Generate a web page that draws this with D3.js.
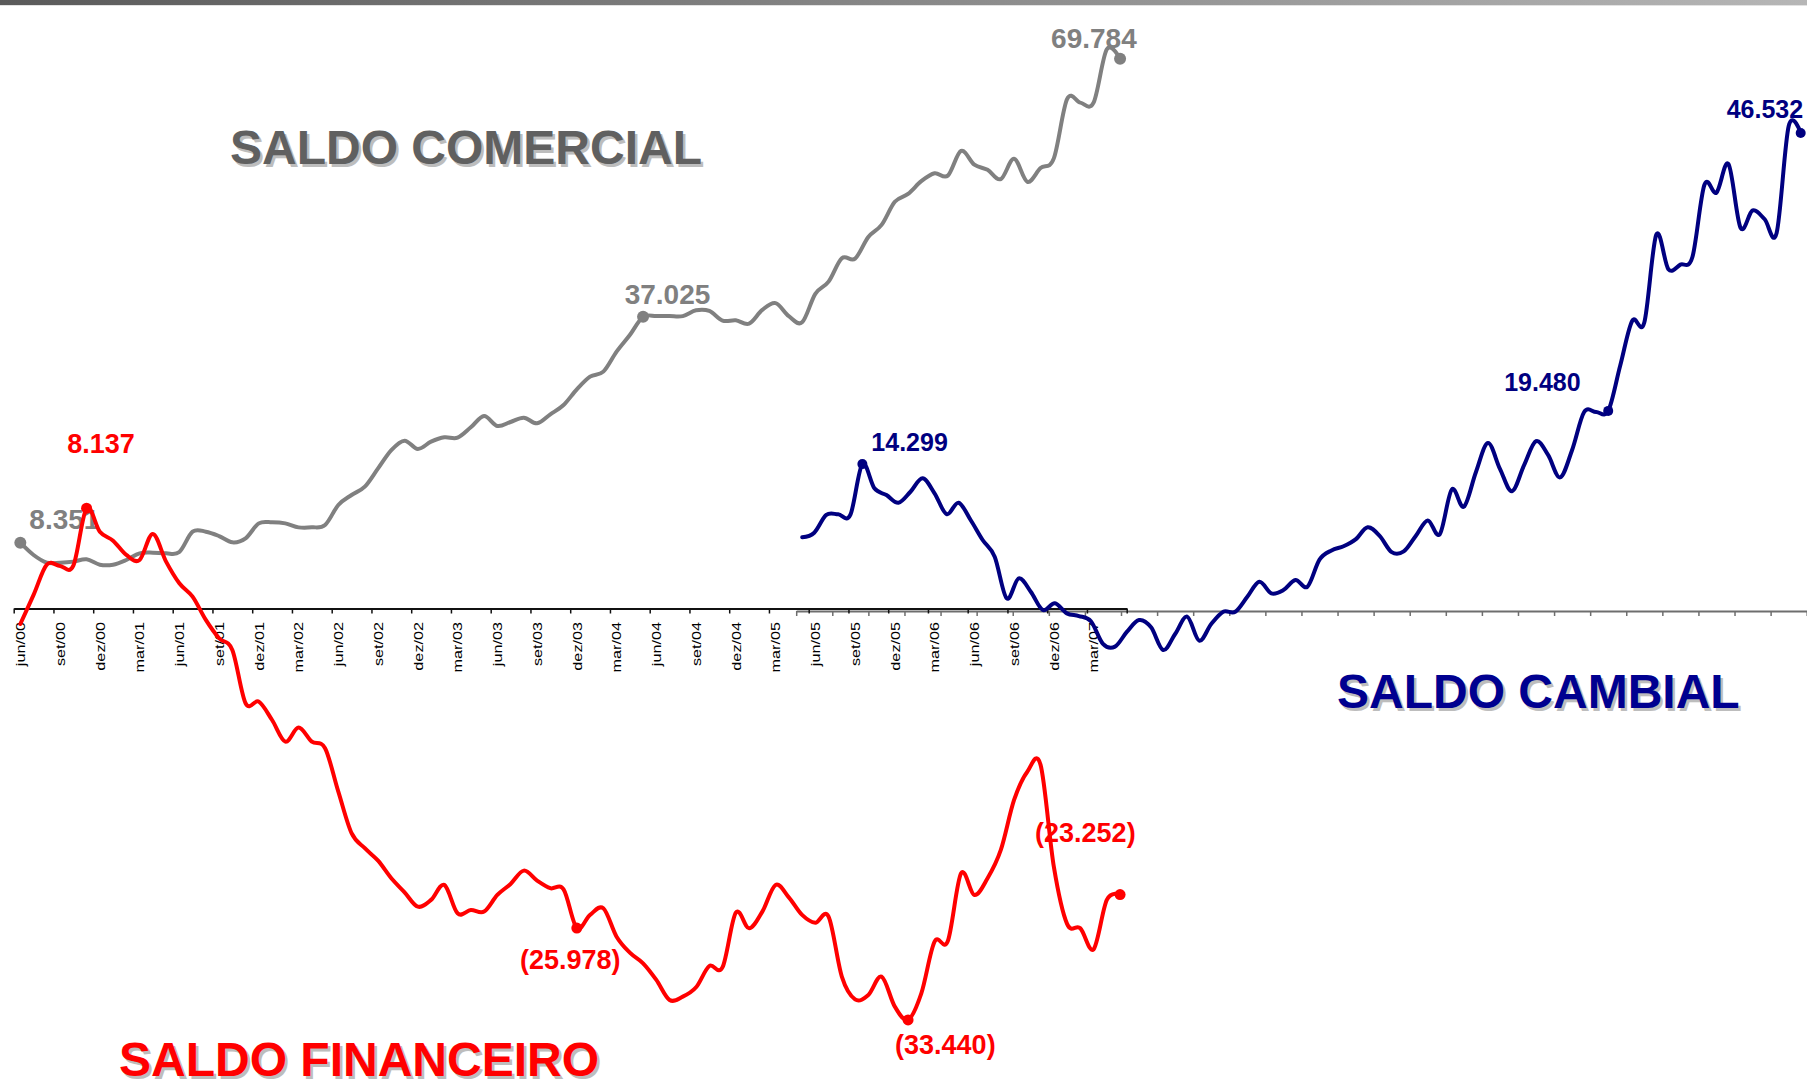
<!DOCTYPE html>
<html>
<head>
<meta charset="utf-8">
<script src="https://cdn.jsdelivr.net/npm/d3@7/dist/d3.min.js"></script>
<style>
	body { margin: 0; background: #fff; }
	svg { display: block; font-family: "Liberation Sans", Arial, sans-serif; }
</style>
</head>
<body>
<div id="grafico"></div>
<script>
// Meses da serie (jun/00 - mai/07)
let meses = [
	'jun/00','jul/00','ago/00','set/00','out/00','nov/00','dez/00',
	'jan/01','fev/01','mar/01','abr/01','mai/01','jun/01','jul/01','ago/01','set/01','out/01','nov/01','dez/01',
	'jan/02','fev/02','mar/02','abr/02','mai/02','jun/02','jul/02','ago/02','set/02','out/02','nov/02','dez/02',
	'jan/03','fev/03','mar/03','abr/03','mai/03','jun/03','jul/03','ago/03','set/03','out/03','nov/03','dez/03',
	'jan/04','fev/04','mar/04','abr/04','mai/04','jun/04','jul/04','ago/04','set/04','out/04','nov/04','dez/04',
	'jan/05','fev/05','mar/05','abr/05','mai/05','jun/05','jul/05','ago/05','set/05','out/05','nov/05','dez/05',
	'jan/06','fev/06','mar/06','abr/06','mai/06','jun/06','jul/06','ago/06','set/06','out/06','nov/06','dez/06',
	'jan/07','fev/07','mar/07','abr/07','mai/07'
];

// Rotulos do eixo (trimestrais)
let rotulos = ['jun/00','set/00','dez/00','mar/01','jun/01','set/01','dez/01','mar/02','jun/02','set/02',
	'dez/02','mar/03','jun/03','set/03','dez/03','mar/04','jun/04','set/04','dez/04','mar/05',
	'jun/05','set/05','dez/05','mar/06','jun/06','set/06','dez/06','mar/07'];

// US$ milhoes, acumulado 12 meses
let saldoComercial = [8351, 6790, 5820, 5820, 5950, 6240, 5560, 5560, 6160, 7000, 7090, 7000, 7170, 9750, 9750, 9200,
	8400, 8910, 10810, 10940, 10810, 10300, 10300, 10600, 13140, 14410, 15470, 17790, 20120, 21310, 20250, 21180,
	21730, 21690, 23000, 24440, 23170, 23680, 24230, 23510, 24650, 25830, 27820, 29430, 30070, 32610, 34720, 37025,
	37120, 37120, 37120, 37860, 37770, 36550, 36590, 36160, 37910, 38770, 37120, 36330, 39950, 41490, 44460, 44420,
	47170, 48700, 51630, 52630, 54250, 55260, 54950, 58090, 56350, 55690, 54510, 57090, 54170, 55910, 57140, 64660,
	64220, 64220, 71000, 69784];

let saldoFinanceiro = [-1270, 1100, 3550, 3450, 3470, 8137, 6230, 5500, 4340, 3930, 6050, 3800, 2040, 950, -940, -2430,
	-3380, -7710, -7580, -9070, -10830, -9690, -10830, -11370, -14890, -18270, -19490, -20500, -21930, -23070, -24240, -23690,
	-22470, -24780, -24510, -24640, -23290, -22390, -21310, -22120, -22740, -22830, -25978, -24910, -24370, -26680, -27980, -28840,
	-30190, -31820, -31550, -30790, -29060, -29160, -24720, -26000, -24640, -22470, -23480, -24910, -25540, -25050, -29920, -31770,
	-31410, -29920, -32360, -33440, -31280, -27080, -27030, -21530, -23290, -21930, -19630, -15570, -13270, -12720, -20990, -25640,
	-25990, -27700, -23690, -23252];

let saldoCambial = [7170, 7620, 9350, 9410, 9350, 14299, 11940, 11290, 10540, 11610, 12920, 11460, 9440, 10540, 8860, 6910,
	5290, 1230, 3180, 1880, 100, 750, -230, -490, -1000, -3200, -3470, -2010, -880, -1590, -3800, -2240,
	-550, -2890, -1270, -70, -70, 1390, 2850, 1720, 2040, 3020, 2370, 5000, 5900, 6300, 6970, 8150,
	7310, 5730, 5800, 7310, 8820, 7480, 11830, 10150, 13510, 16350, 13840, 11660, 14180, 16530, 15190, 13010,
	15680, 19370, 19370, 19480, 23900, 28260, 28090, 36640, 33280, 33720, 34460, 41500, 40730, 43510, 37310, 38990,
	38150, 36810, 47190, 46532];

// Pontos destacados (indice do mes)
let destaqueComercial = [0, 47, 83];
let destaqueFinanceiro = [5, 42, 67, 83];
let destaqueCambial = [5, 67, 83];

// Set up SVG
let width = 1807;
let height = 1089;

let svg = d3.select('#grafico')
	.append('svg')
	.attr('width', width)
	.attr('height', height);

// barra superior
let grad = svg.append('defs').append('linearGradient')
	.attr('id', 'barra')
	.attr('x1', '0%').attr('x2', '100%');
grad.append('stop').attr('offset', '0%').attr('stop-color', '#5a5a5a');
grad.append('stop').attr('offset', '100%').attr('stop-color', '#b6b6b6');
svg.append('rect')
	.attr('x', 0).attr('y', 0)
	.attr('width', width).attr('height', 5)
	.attr('fill', 'url(#barra)');
svg.append('rect')
	.attr('x', 0).attr('y', 5)
	.attr('width', width).attr('height', 1)
	.attr('fill', '#e2e2e2');

// Scales: dois eixos de categoria sobrepostos, tres escalas de valor
let xPri = d3.scaleLinear().domain([0, meses.length]).range([13.7, 1126.7]);
let xSec = d3.scaleLinear().domain([0, meses.length]).range([796.2, 1806.7]);

let yCom = d3.scaleLinear().domain([0, 70000]).range([608.5, 57.1]);
let yFin = d3.scaleLinear().domain([-35000, 10000]).range([1039.1, 485.3]);
let yCam = d3.scaleLinear().domain([0, 50000]).range([611, 97.4]);

let fmt = d3.formatLocale({decimal: ',', thousands: '.', grouping: [3], currency: ['', '']}).format(',.0f');
function rotulo(v) {
	return v < 0 ? '(' + fmt(-v) + ')' : fmt(v);
}

// Eixo secundario (cambial)
let eixoSec = svg.append('g')
	.attr('transform', 'translate(0,' + yCam(0) + ')')
	.call(d3.axisBottom(xSec)
		.tickValues(d3.range(0, meses.length + 1, 3))
		.tickSize(5)
		.tickSizeOuter(0)
		.tickFormat(''));
eixoSec.select('.domain').attr('stroke', '#6e6e6e').attr('stroke-width', 2);
eixoSec.selectAll('.tick line').attr('stroke', '#6e6e6e').attr('stroke-width', 1.5);

// Eixo principal
let eixoPri = svg.append('g')
	.attr('transform', 'translate(0,' + yCom(0) + ')')
	.call(d3.axisBottom(xPri)
		.tickValues(d3.range(0, meses.length + 1, 3))
		.tickSize(5)
		.tickSizeOuter(0)
		.tickFormat(''));
eixoPri.select('.domain').attr('stroke', '#111').attr('stroke-width', 2);
eixoPri.selectAll('.tick line').attr('stroke', '#111').attr('stroke-width', 1.5);

svg.append('g')
	.selectAll('text')
	.data(rotulos)
	.enter()
	.append('text')
	.attr('transform', function(d) {
		let i = meses.indexOf(d);
		return 'translate(' + (xPri(i + 0.5) + 4.8) + ',622) rotate(-90) scale(1.2,1)';
	})
	.attr('text-anchor', 'end')
	.attr('font-size', 13.5)
	.attr('fill', '#000')
	.text(function(d) { return d; });

// Linhas
function linha(x, y) {
	return d3.line()
		.x(function(d, i) { return x(i + 0.5); })
		.y(function(d) { return y(d); })
		.curve(d3.curveCardinal.tension(0));
}

let series = [
	{dados: saldoComercial, x: xPri, y: yCom, cor: '#808080', destaque: destaqueComercial, fonte: 28,
		off: [[9, -13.4], [-18.4, -13], [-69, -10.4]], r: 6},
	{dados: saldoCambial, x: xSec, y: yCam, cor: '#000080', destaque: destaqueCambial, fonte: 25,
		off: [[9, -13.4], [-104, -20.3], [-74, -14.8]], r: 5},
	{dados: saldoFinanceiro, x: xPri, y: yFin, cor: '#ff0000', destaque: destaqueFinanceiro, fonte: 27,
		off: [[-19.3, -55.6], [-56.8, 41], [-13, 34], [-85, -52.8]], r: 5.5}
];

for (let s = 0; s < series.length; s++) {
	let ser = series[s];
	svg.append('path')
		.datum(ser.dados)
		.attr('fill', 'none')
		.attr('stroke', ser.cor)
		.attr('stroke-width', 4)
		.attr('stroke-linecap', 'round')
		.attr('stroke-linejoin', 'round')
		.attr('d', linha(ser.x, ser.y));

	for (let k = 0; k < ser.destaque.length; k++) {
		let i = ser.destaque[k];
		let px = ser.x(i + 0.5);
		let py = ser.y(ser.dados[i]);
		svg.append('circle')
			.attr('cx', px)
			.attr('cy', py)
			.attr('r', ser.r)
			.attr('fill', ser.cor);
		svg.append('text')
			.attr('x', px + ser.off[k][0])
			.attr('y', py + ser.off[k][1])
			.attr('font-size', ser.fonte)
			.attr('font-weight', 'bold')
			.attr('fill', ser.cor)
			.text(rotulo(ser.dados[i]));
	}
}

// Titulos com sombra
let titulos = [
	['SALDO COMERCIAL', 230, 164, '#606060'],
	['SALDO CAMBIAL', 1337, 708, '#000090'],
	['SALDO FINANCEIRO', 119, 1076, '#ff0000']
];
for (let t = 0; t < titulos.length; t++) {
	svg.append('text')
		.attr('x', titulos[t][1] + 2.5)
		.attr('y', titulos[t][2] + 2.5)
		.attr('font-size', 48)
		.attr('font-weight', 'bold')
		.attr('fill', '#bdbdbd')
		.text(titulos[t][0]);
	svg.append('text')
		.attr('x', titulos[t][1])
		.attr('y', titulos[t][2])
		.attr('font-size', 48)
		.attr('font-weight', 'bold')
		.attr('fill', titulos[t][3])
		.text(titulos[t][0]);
}
</script>
</body>
</html>
